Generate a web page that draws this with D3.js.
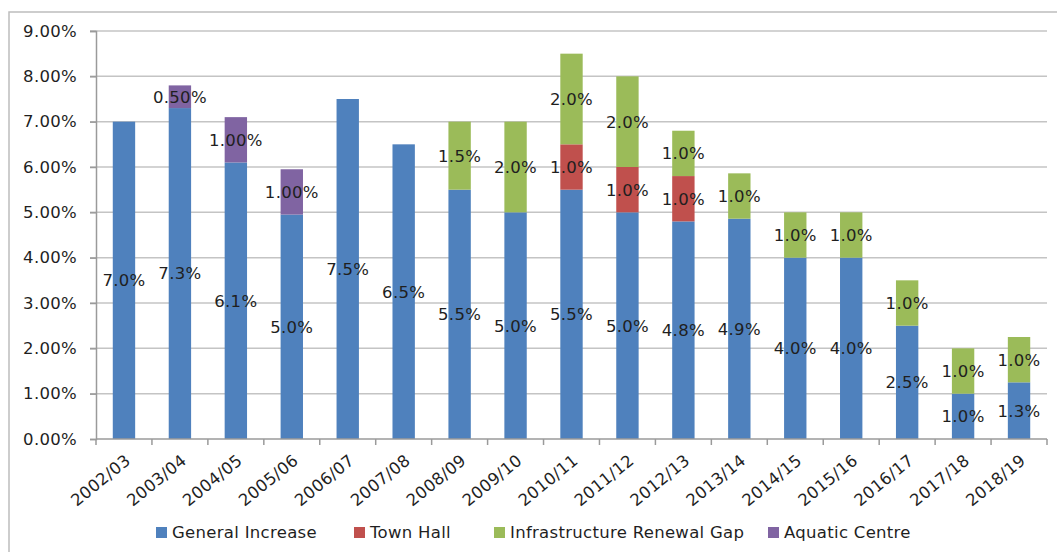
<!DOCTYPE html>
<html>
<head>
<meta charset="utf-8">
<script src="https://cdn.jsdelivr.net/npm/d3@7"></script>
<style>
	body { margin: 0; background: #fff; }
	svg text { font-family: "DejaVu Sans", Verdana, sans-serif; fill: #1f1f1f; letter-spacing: 0.3px; }
</style>
</head>
<body>
<div id="chart"></div>
<script>
// values (percent)
var years = ["2002/03", "2003/04", "2004/05", "2005/06", "2006/07", "2007/08", "2008/09", "2009/10",
	"2010/11", "2011/12", "2012/13", "2013/14", "2014/15", "2015/16", "2016/17", "2017/18", "2018/19"];
var generalIncrease = [7.0, 7.3, 6.1, 4.95, 7.5, 6.5, 5.5, 5.0, 5.5, 5.0, 4.8, 4.86, 4.0, 4.0, 2.5, 1.0, 1.25];
var townHall = [0, 0, 0, 0, 0, 0, 0, 0, 1.0, 1.0, 1.0, 0, 0, 0, 0, 0, 0];
var infraGap = [0, 0, 0, 0, 0, 0, 1.5, 2.0, 2.0, 2.0, 1.0, 1.0, 1.0, 1.0, 1.0, 1.0, 1.0];
var aquaticCentre = [0, 0.5, 1.0, 1.0, 0, 0, 0, 0, 0, 0, 0, 0, 0, 0, 0, 0, 0];
var yTicks = [0, 1, 2, 3, 4, 5, 6, 7, 8, 9];

var seriesNames = ["General Increase", "Town Hall", "Infrastructure Renewal Gap", "Aquatic Centre"];
var seriesValues = [generalIncrease, townHall, infraGap, aquaticCentre];
var colors = ["#4f81bd", "#c0504d", "#9bbb59", "#8064a2"];
var decimals = [1, 1, 1, 2];

var width = 1057, height = 552;
var fontSize = "16.5px";
var svg = d3.select("#chart").append("svg")
	.attr("width", width)
	.attr("height", height);

// outer frame
svg.append("rect")
	.attr("x", 9).attr("y", 12)
	.attr("width", width + 10).attr("height", height + 10)
	.attr("fill", "none")
	.attr("stroke", "#bdbdbd")
	.attr("stroke-width", 1.5);

var x = d3.scaleBand().domain(years).range([96, 1047]).paddingInner(0.6).paddingOuter(0.3);
var y = d3.scaleLinear().domain([0, 9]).range([439, 31]);

var rows = years.map(function(yr, i) {
	var r = { year: yr };
	seriesNames.forEach(function(n, k) { r[n] = seriesValues[k][i]; });
	return r;
});
var stacked = d3.stack().keys(seriesNames)(rows);

// gridlines
svg.append("g").selectAll("line")
	.data(yTicks.filter(function(t) { return t > 0; }))
	.enter().append("line")
	.attr("x1", 90).attr("x2", 1047)
	.attr("y1", function(d) { return y(d); })
	.attr("y2", function(d) { return y(d); })
	.attr("stroke", "#c4c4c4")
	.attr("stroke-width", 1.5);

// y axis
var yAxis = svg.append("g")
	.attr("transform", "translate(96,0)")
	.call(d3.axisLeft(y).tickValues(yTicks).tickSize(6).tickPadding(13)
		.tickFormat(function(d) { return d.toFixed(2) + "%"; }));
yAxis.select(".domain").attr("stroke", "#9a9a9a").attr("stroke-width", 1.5);
yAxis.selectAll(".tick line").attr("stroke", "#9a9a9a").attr("stroke-width", 1.5);
yAxis.selectAll("text").style("font-size", fontSize).attr("fill", "#1f1f1f");

// bars
var layers = svg.append("g").selectAll("g")
	.data(stacked)
	.enter().append("g")
	.attr("fill", function(d, i) { return colors[i]; });

layers.selectAll("rect")
	.data(function(d) { return d; })
	.enter().append("rect")
	.attr("x", function(d) { return x(d.data.year); })
	.attr("width", x.bandwidth())
	.attr("y", function(d) { return y(d[1]); })
	.attr("height", function(d) { return y(d[0]) - y(d[1]); });

// x axis
var xAxis = svg.append("g")
	.attr("transform", "translate(0,439)");
xAxis.append("line")
	.attr("x1", 96).attr("x2", 1047)
	.attr("stroke", "#9a9a9a").attr("stroke-width", 1.5);
var step = x.step();
xAxis.selectAll("line.tk")
	.data(d3.range(years.length + 1))
	.enter().append("line")
	.attr("class", "tk")
	.attr("x1", function(i) { return 96 + i * step; })
	.attr("x2", function(i) { return 96 + i * step; })
	.attr("y1", 0).attr("y2", 6)
	.attr("stroke", "#9a9a9a").attr("stroke-width", 1.5);
xAxis.selectAll("text")
	.data(years)
	.enter().append("text")
	.attr("transform", function(d) {
		return "translate(" + (x(d) + x.bandwidth() / 2 + 4) + ",19) rotate(-39)";
	})
	.attr("text-anchor", "end")
	.attr("dy", "0.35em")
	.style("font-size", fontSize)
	.text(function(d) { return d; });

// data labels
var labels = svg.append("g");
stacked.forEach(function(layer, k) {
	labels.selectAll("text.s" + k)
		.data(layer.filter(function(d) { return d[1] - d[0] > 0; }))
		.enter().append("text")
		.attr("class", "s" + k)
		.attr("x", function(d) { return x(d.data.year) + x.bandwidth() / 2; })
		.attr("y", function(d) { return y((d[0] + d[1]) / 2); })
		.attr("text-anchor", "middle")
		.attr("dy", "0.36em")
		.style("font-size", fontSize)
		.text(function(d) { return (d[1] - d[0]).toFixed(decimals[k]) + "%"; });
});

// legend
var legendX = [156, 354, 494, 768];
var legend = svg.append("g").selectAll("g")
	.data(seriesNames)
	.enter().append("g")
	.attr("transform", function(d, i) { return "translate(" + legendX[i] + ",532)"; });
legend.append("rect")
	.attr("x", 0).attr("y", -5)
	.attr("width", 11).attr("height", 11)
	.attr("fill", function(d, i) { return colors[i]; });
legend.append("text")
	.attr("x", 16)
	.attr("dy", "0.36em")
	.style("font-size", fontSize)
	.text(function(d) { return d; });
</script>
</body>
</html>
